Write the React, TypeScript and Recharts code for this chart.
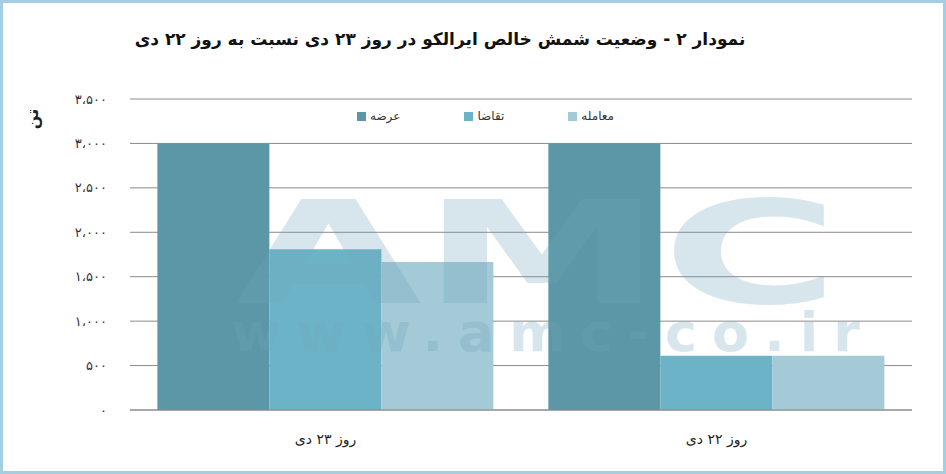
import React from "react";
import { Bar, BarChart, CartesianGrid, Legend, XAxis, YAxis } from "recharts";

const categories = ["روز ۲۳ دی", "روز ۲۲ دی"];
const supply = [3000, 3000]; // عرضه
const demand = [1810, 610]; // تقاضا
const trade = [1665, 610]; // معامله
const yTicks = [0, 500, 1000, 1500, 2000, 2500, 3000, 3500];

const seriesNames = ["عرضه", "تقاضا", "معامله"];
const colors = ["#5b97a7", "#6db3c7", "#a3cad6"];

const data = categories.map((name, i) => ({
  name,
  supply: supply[i],
  demand: demand[i],
  trade: trade[i],
}));

const faDigits = "۰۱۲۳۴۵۶۷۸۹";
function toFa(n: number) {
  const s = n >= 1000 ? `${Math.floor(n / 1000)}،${String(n % 1000).padStart(3, "0")}` : String(n);
  return s.replace(/[0-9]/g, (d) => faDigits[+d]);
}

const font = "'DejaVu Sans', sans-serif";
const watermark = "rgba(110,165,185,0.28)";

function LegendBox() {
  return (
    <div style={{ display: "flex", gap: 64, fontFamily: font, fontSize: 12, color: "#333" }}>
      {seriesNames.map((n, i) => (
        <div key={n} style={{ display: "flex", alignItems: "center", gap: 4 }}>
          <span style={{ width: 9, height: 9, background: colors[i], display: "inline-block" }} />
          <span dir="rtl">{n}</span>
        </div>
      ))}
    </div>
  );
}

export default function App() {
  return (
    <div
      style={{
        position: "absolute",
        left: 0,
        top: 0,
        width: 946,
        height: 474,
        boxSizing: "border-box",
        border: "3px solid #a2d0e2",
        background: "#fff",
        overflow: "hidden",
      }}
    >
      <div
        dir="rtl"
        style={{
          position: "absolute",
          top: 26,
          left: 0,
          width: 874,
          textAlign: "center",
          fontFamily: font,
          fontWeight: "bold",
          fontSize: 17,
          color: "#111",
        }}
      >
        نمودار ۲ - وضعیت شمش خالص ایرالکو در روز ۲۳ دی نسبت به روز ۲۲ دی
      </div>
      <div style={{ position: "absolute", left: -3, top: -3 }}>
        <BarChart
          width={946}
          height={474}
          data={data}
          margin={{ top: 99, right: 34, bottom: 24, left: 30 }}
          barCategoryGap="7%"
          barGap={0}
        >
          <CartesianGrid vertical={false} stroke="#8a8a8a" />
          <XAxis
            xAxisId="edges"
            type="number"
            domain={[0, 2]}
            ticks={[0, 1, 2]}
            height={0}
            axisLine={false}
            tickSize={6}
            tickFormatter={() => ""}
            stroke="#8a8a8a"
          />
          <XAxis
            dataKey="name"
            height={40}
            tickLine={false}
            axisLine={{ stroke: "#8a8a8a" }}
            tick={{ fill: "#222", fontSize: 14, fontFamily: font }}
            tickMargin={18}
          />
          <YAxis
            width={100}
            domain={[0, 3500]}
            ticks={yTicks}
            axisLine={false}
            tickLine={false}
            tickSize={0}
            tickMargin={23}
            tickFormatter={toFa}
            tick={{ fill: "#333", fontSize: 13, fontFamily: font, letterSpacing: 1 }}
            label={{
              content: (p: any) => {
                const x = (p.viewBox?.x ?? 30) + 8;
                const y = 119;
                return (
                  <text x={x} y={y} transform={`rotate(-90 ${x} ${y})`} textAnchor="middle" fontFamily={font} fontSize={16} fontWeight="bold" fill="#222">
                    تن
                  </text>
                );
              },
            }}
          />
          <Legend verticalAlign="middle" content={<LegendBox />} wrapperStyle={{ top: 109, left: 357, width: "auto" }} />
          <Bar dataKey="supply" name={seriesNames[0]} fill={colors[0]} isAnimationActive={false} />
          <Bar dataKey="demand" name={seriesNames[1]} fill={colors[1]} isAnimationActive={false} />
          <Bar dataKey="trade" name={seriesNames[2]} fill={colors[2]} isAnimationActive={false} />
        </BarChart>
      </div>
      <div
        style={{
          position: "absolute",
          left: 0,
          top: 196,
          width: 1064,
          textAlign: "center",
          fontFamily: font,
          fontWeight: "bold",
          fontSize: 142,
          lineHeight: "110px",
          color: watermark,
          transform: "scaleX(1.7)",
          transformOrigin: "529px 0",
          pointerEvents: "none",
        }}
      >
        AMC
      </div>
      <div
        style={{
          position: "absolute",
          left: 220,
          top: 310,
          width: 660,
          textAlign: "center",
          fontFamily: font,
          fontWeight: "bold",
          fontSize: 54,
          lineHeight: "40px",
          letterSpacing: 15,
          color: watermark,
          pointerEvents: "none",
        }}
      >
        www.amc-co.ir
      </div>
    </div>
  );
}
